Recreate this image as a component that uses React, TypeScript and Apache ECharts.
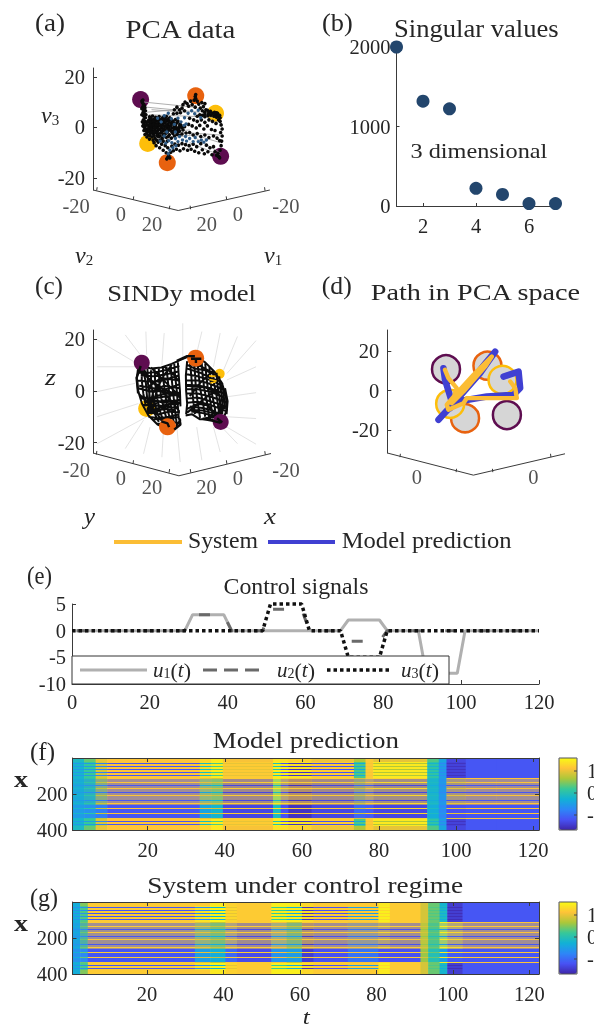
import React, { useEffect, useRef } from "react";
import * as echarts from "echarts";

const FONT = '"Liberation Serif", serif';
const INK = "#262626";
const AXIS = "#3a3a3a";
const PURPLE = "#5e0d50";
const ORANGE = "#e8620f";
const YELLOW = "#fdbe0a";
const NAVY = "#23466d";
const SYSTEM = "#fbbd35";
const MODEL = "#4040d2";

// (a) PCA data: projected positions
const sitesA = [[-16.3, 11], [5.4, 12.5], [13.2, 5.6], [-13.5, -6.3], [-5.8, -13.9], [15.2, -11.4]];
const blackA = [
  [-15.6,9.8],[-15.2,9.2],[-14.8,8.6],[-15.4,8.2],[-14.6,7.8],[-15.1,7.0],[-14.4,6.6],[-15.3,6.0],[-14.7,5.4],[-14.2,5.0],[-15.0,4.4],[-14.4,3.8],[-15.2,3.0],[-14.6,2.4],[-14.0,2.0],[-15.0,1.4],[-14.3,0.8],[-14.8,0.0],[-14.0,-0.6],[-14.5,-1.2],[-13.5,-1.6],[-14.0,-2.4],[-13.2,-3.0],
  [-12.8,4.2],[-11.6,4.5],[-10.4,4.0],[-9.0,4.3],[-7.6,3.9],[-6.2,4.4],[-4.8,3.8],
  [-13,3],[-12,2.8],[-11,3.2],[-10,2.7],[-9,3.1],[-8,2.6],[-7,3.2],[-6,2.7],[-5,3],[-3.8,2.6],[-2.6,3.1],
  [-12.6,1.8],[-11.6,1.5],[-10.6,2],[-9.6,1.4],[-8.6,1.9],[-7.6,1.3],[-6.6,1.8],[-5.6,1.2],[-4.4,1.7],[-3.2,1.2],[-2,1.8],[-0.8,1.3],
  [-13,0.4],[-12,0.2],[-11,0.7],[-10,0.1],[-9,0.6],[-8,-0.1],[-7,0.5],[-6,-0.1],[-5,0.4],[-4,-0.2],[-3,0.3],[-2,-0.2],[-1,0.4],[0,-0.1],[1,0.3],
  [-12.6,-0.9],[-11.6,-1.2],[-10.6,-0.8],[-9.6,-1.3],[-8.6,-0.8],[-7.6,-1.4],[-6.6,-1],[-5.6,-1.5],[-4.6,-1],[-3.4,-1.4],[-2.2,-1],[-1,-1.5],[0.4,-1],
  [-12.4,-2.2],[-11.4,-2.6],[-10.4,-2.1],[-9.4,-2.7],[-8.4,-2.2],[-7.4,-2.8],[-6.4,-2.3],[-5,-2.9],[-3.6,-2.4],[-2,-2.8],[0,-2.6],[1.6,-2.2],
  [-11.8,-3.8],[-10.6,-4.2],[-9.2,-3.7],[-7.8,-4.3],[-6.2,-3.9],[-4.2,-4.2],
  [-11,-6],[-10.2,-7.2],[-9.4,-5.8],[-8.8,-8],[-8,-6.6],[-7.4,-9],[-6.6,-7.2],[-6.2,-10],[-5.6,-8],[-5.2,-11],[-6,-12.4],[-5.6,-11.8],[-4.8,-12],[-4.4,-9.8],[-4,-7.4],[-3.4,-9.2],[-2.8,-6.6],[-2.2,-8.6],[-1.4,-7],[-0.8,-9.2],[0,-6.4],[0.6,-8.4],[1.4,-6.8],[2.2,-9],[2.8,-7.2],
  [3.6,-8.6],[4.4,-6.6],[5,-9.4],[5.8,-7.6],[6.6,-10],[7.4,-6.4],[8,-8.8],[8.8,-10.4],[9.6,-7],[10.2,-9.6],[11,-8],[11.8,-10.8],[12.4,-7.6],[13,-9.6],[13.6,-11],[14.2,-10.2],[14.6,-11.6],[15,-9],[15.4,-7.2],[15.6,-5.4],[14.8,-5.2],[15.8,-3.4],[15.2,-2],[15.8,-0.6],[15.4,1],[15,2.4],[14.4,3],
  [0.4,9],[1.2,10],[2,9.4],[2.6,8.4],[3.4,10.4],[4,9],[4.8,10.8],[5.2,8],[6,10.4],[6.6,9.2],[7.2,7.6],[7.8,9.8],[8.4,8.2],[9,9.4],[9.4,7],
  [-3,7],[-2,8],[-1,7],[0,7.6],[-0.6,5.8],[1,6.6],[-2,5.6],[-3.4,5.4],
  [8,6.6],[9,6],[10,6.8],[10.6,5.8],[11.2,6.4],[12,5.6],[12.8,6],[13.4,5],[14,5.6],[14.4,4.4],[13.6,4],[12.6,4.4],[11.4,4.8],[10.2,4.6],[9,4.2],[8,4.8],[7,5],[6,4.4],
  [3,3.6],[4.6,3],[6,2.4],[7.6,3],[9,2],[10.6,3],[12,2.4],[13.4,1.6],[2.6,1.2],[4,0.6],[5.6,-0.2],[7,0.8],[8.6,-0.6],[10,0.6],[11.6,-0.8],[13,-1.2],[3,-2],[4.4,-3],[6,-2.4],[7.4,-3.6],[9,-3],[10.6,-4],[12.4,-3.4],[13.8,-4.2],
  [5.4,13.0],[5.2,12.2],[5.4,11.4],[-15.8,10.4],[-15.4,10.8],[14.2,-11.4],[14.8,-12],
  [-12.2,3.6],[-10.6,3.5],[-9.4,3.7],[-8.2,3.2],[-6.6,3.7],[-5.4,3.4],[-4.2,3.1],[-13.4,2.4],[-12.2,2.2],[-11.2,2.4],[-9.2,2.4],[-7.2,2.4],[-5.2,2.2],[-3.4,2],[-1.6,2.5],
  [-13.4,1],[-12.4,1],[-11.2,1.1],[-10,1],[-8.2,0.9],[-6.2,0.7],[-4.4,0.8],[-2.6,0.8],[-0.4,0.8],[-13.2,-0.4],[-12,-0.6],[-10.8,-0.2],[-9.4,-0.4],[-7.2,-0.6],[-5.2,-0.6],[-3,-0.6],[-1.2,-0.5],
  [-13,-1.6],[-12,-1.8],[-11,-1.7],[-9.8,-2],[-8,-1.7],[-6,-2],[-4,-1.8],[-1.8,-2],[-12.6,-3.2],[-11,-3.2],[-9.8,-3.2],[-8.6,-3.4],[-7,-3.4],[-5.4,-3.6],[-3,-3.4],[-1,-3.1],[-11.4,-5],[-10,-5],[-8.6,-5],[-7.4,-5.4],[-5.8,-5.4],
  [-15.8,7.4],[-15.8,5],[-15.6,2.2],[-15.4,0.6],[-15,-1.2],[-14.6,-2.8],[-13.8,-3.8],[-12.8,-4.6],
  [9,5.2],[10.4,5.4],[11.8,5.4],[13,5.4],[13.6,5.8],[14.8,4.8],[15,3.8],
];
const blueA = [
  [-9.6,3.6],[-8.2,2.2],[-7,4.6],[-5.4,5.6],[-4.2,3.4],[-3,1.2],[-1.6,3.6],[-0.4,2.2],[1,3.8],[2.4,5.6],[3.8,6.6],[5,5.4],[6.4,6.8],[7.4,3.8],[-6,-1.8],[-7,-3.4],[-5.2,-5.2],[-6.4,-6.2],[-4,-6],[-2.6,-4.4],[-1,-3.6],[-1.6,-5.6],[0.2,-5],[1.4,-3.6],[1.8,-5.4],[3,-4.4],[4.4,-5.6],[5.2,-4],[6.4,-5.6],[7.6,-5],[8.6,-5.8],[9.6,-5],[-3.6,-8],[-2.4,-7.2],[-4.8,-9],[-5.4,-10.4],[0.8,0.8],[-2.6,-1.8],[1.6,1.4],[-8.6,-5.4],
];
const flowA = [
  [[-15,10],[5,8]], [[-14,8],[7,6]], [[-13,5],[14,4]], [[-14,-1],[15,-3]], [[3,-6],[15,-11]], [[5,-4],[15,-10]], [[-12,7],[2,6]], [[-10,-2],[3,-1]],
  [[-14,6],[-2,7]], [[2,-2],[15,-6]], [[-11,-5],[4,-3]],
];

// (b) Singular values
const svIndex = [1, 2, 3, 4, 5, 6, 7];
const svValues = [2000, 1318, 1222, 222, 146, 30, 30];

// (c) SINDy model
const sitesC = [[-15.6, 10.9], [5.3, 12.6], [-13.7, -6.8], [-5.6, -13.9], [15, -12]];
const hiddenYellowC = [14.6, 6.6];
const spokesC = [
  [[-32.9,19.7],[-17.5,10.6]],[[-32.9,9.3],[-18.2,9.3]],[[-32.9,-0.3],[-18.2,2.9]],[[-32.9,-10],[-16.9,-4.9]],[[-32.9,-20.4],[-13.7,-10]],
  [[-22,21.6],[-15.6,13.2]],[[-14,22.9],[-13.7,13.9]],[[-6.9,22.3],[-7.8,10]],[[0.3,26.1],[0.3,11.9]],[[7.7,22.9],[5.7,14.5]],[[14.8,22.3],[12.2,9.3]],[[21.5,21],[16.1,8]],[[28.7,19.4],[17.4,6.7]],
  [[28.7,9.3],[17.4,4.2]],[[28.7,-0.7],[17.4,-2.3]],[[28.7,-10.7],[17.4,-10]],[[28.7,-20.6],[17.4,-14]],
  [[21.5,-20.4],[15.4,-14]],[[14.8,-23.6],[12.2,-14]],[[7.7,-26.8],[5.7,-14]],[[-0.7,-27.5],[-2,-14]],[[-7.8,-25.6],[-7.2,-15.2]],[[-14.9,-24.3],[-12.4,-14]],[[-22,-22.3],[-14.9,-11.3]],
];
const webC = [
  [[-17,9],[-17.5,5],[-17,0],[-15.5,-5],[-13,-9.5],[-9.5,-13],[-6,-14.5],[-2.5,-14],[-0.5,-11]],
  [[-15.6,10],[-12,8.6],[-8,9],[-4,10.4],[-1,11.8],[2,13],[5.7,13]],
  [[-13.5,-7.5],[-9,-4],[-5,-3.5],[-1,-5]],
  [[-13.5,-7],[-10,-2],[-6,-1],[-1,-2]],
  [[-13,-7.5],[-11,0],[-7,2],[-1,1]],
  [[-13,-8],[-12.5,2],[-8,5],[-1,4]],
  [[-15,8],[-14,3],[-13.5,-3],[-12,-8]],
  [[-12,8],[-12,3],[-11,-3],[-9.5,-9],[-7,-13]],
  [[-9,8.5],[-8.8,3],[-8,-3],[-6.5,-9],[-5,-13.5]],
  [[-6,9.2],[-5.5,4],[-4.8,-2],[-4,-8],[-3,-13]],
  [[-3,10.4],[-2.6,5],[-2,0],[-1.6,-6],[-1.2,-11]],
  [[-14,-8],[-9,-9],[-5,-8],[-0.8,-8.4]],
  [[-11,-11],[-6,-11],[-1,-10]],
  [[-16,6],[-11,5.6],[-6,6.4],[-1,7.6]],
  [[-16.6,2],[-11,1],[-6,-0.8],[-1,-0.6]],
  [[-13,-8.6],[-10,-8.4],[-6,-6],[-2,-6.6]],
  [[-16,-2],[-12,-3.4],[-7,-4.6],[-1,-3.4]],
  [[-13.5,-8],[-9,-6.6],[-5,-5.4],[-2,-5]],
  [[-13.4,-8.4],[-9,-7.4],[-6,-7],[-3,-7.4]],
  [[-15,9],[-13.2,5],[-10,2.6],[-7,0.4],[-3,-1]],
  [[-4,10],[-7,6],[-9.6,1],[-11,-5],[-12,-9]],
  [[-17,7],[-13,7],[-9,7.4],[-5,8.4],[-1,9.6]],
  [[-17.4,4],[-13,3.6],[-9,3.6],[-5,4.8],[-1,6]],
  [[-17,1],[-14,0.2],[-10,-0.4],[-5,1],[-1,2.6]],
  [[-16.4,-3],[-13,-3],[-9,-2.6],[-5,-2],[-0.6,-1]],
  [[-15.4,-5.4],[-12,-5.6],[-8,-5.8],[-4,-4.8],[-0.6,-4.4]],
  [[-13,-10],[-9,-10.6],[-5,-10],[-1,-9]],
  [[-10,-12.6],[-6,-13],[-2,-12]],
  [[-15.6,9],[-15.6,4],[-15,-1],[-14,-6]],
  [[-13.4,8.6],[-13.2,3],[-12.4,-3],[-11,-8],[-9,-12]],
  [[-10.6,8.6],[-10.4,3],[-9.6,-3],[-8.2,-9],[-6.4,-13.4]],
  [[-7.4,9],[-7.2,4],[-6.4,-2],[-5.4,-8],[-4,-13.4]],
  [[-4.4,10],[-4,4.6],[-3.4,-1],[-2.8,-7],[-2,-13]],
  [[-1.6,11],[-1.2,5],[-0.8,0],[-0.6,-6]],
  [[-16.4,8],[-10,2],[-4,-4],[-1,-8]],
  [[-12,9],[-6,3],[-2,-1],[-0.6,-3]],
  [[-16.8,-1],[-12,-6],[-8,-11],[-5,-14]],
  [[-7,9.4],[-3,6],[-1,3.4]],
  [[5.7,13],[9,11],[12.5,7.5],[15.5,3],[17,-2],[17.4,-7],[16,-11],[14.5,-12.5]],
  [[14.8,-12],[11,-11],[7,-11],[3.8,-9],[1.4,-9.5]],
  [[2,11.5],[1.5,6],[1.6,0],[2,-5],[1.6,-9]],
  [[3,11.8],[3.6,6],[4,0],[4.4,-4],[5,-9]],
  [[6,12],[6.4,7],[7,1],[8,-4],[9,-10]],
  [[9,10.6],[9.4,6],[10,1],[11,-4],[12,-10.6]],
  [[12,8],[12.4,3],[13.4,-2],[14.2,-7],[14.4,-11]],
  [[14.4,5.6],[15,1],[15.6,-4],[15.6,-9]],
  [[2,8.6],[7,7],[11,5],[15,3.6]],
  [[1.8,4],[6,4],[10,3],[16,0.6]],
  [[1.6,0.6],[6,0.6],[11,-0.4],[16.6,-2.6]],
  [[1.8,-3],[6,-2.6],[11,-4],[17,-6]],
  [[3,-6],[8,-6.6],[12,-7.6],[16,-10]],
  [[3.6,-8],[8,-8.6],[12,-9.6],[15,-11.8]],
  [[2,-7],[6,-5],[10,-5.6],[15,-11]],
  [[2,10],[5,8.6],[9,8],[13,6]],
  [[2,2],[5,1.6],[9,1.4],[14,-1]],
  [[3,10.4],[7,9.6],[11,7.4],[14,5]],
  [[1.8,6.4],[6,5.6],[11,4.2],[15.6,2]],
  [[1.6,2.4],[6,2.2],[11,1],[16.4,-1]],
  [[1.8,-1],[6,-1],[11,-2.2],[17,-4.4]],
  [[2,-4.6],[6,-4.2],[11,-5.4],[17,-7.8]],
  [[3,-7.4],[8,-7.6],[12,-8.6],[16,-11]],
  [[4.6,12.4],[5,7],[5.4,1],[6,-4],[7,-10.4]],
  [[7.6,11.4],[8,6],[8.6,1],[9.6,-4],[10.6,-10.6]],
  [[10.6,9.4],[11,4],[11.6,-1],[12.6,-6],[13.4,-11]],
  [[13.4,7],[13.8,2],[14.6,-3],[15,-8],[15.4,-11.4]],
  [[15.6,3],[16.2,-2],[16.6,-7]],
  [[16,2],[10,-2],[5,-6],[2,-8.4]],
  [[12,7.8],[7,3],[3,-2]],
  [[16.8,-6],[12,-10],[8,-10.8]],
];
const marksC = [
  [[3.5,12.4],[7.5,12.4]], [[5.4,12.4],[5.4,10.8]], [[-8,-11.8],[-5.6,-12.6],[-5,-14]], [[-13.4,-7.6],[-10,-5.4]], [[-13.2,-8],[-9,-7]], [[13.6,-10.6],[15.6,-12.2]],
  [[-1,-10.6],[-0.6,-13],[-3,-15]], [[8,-10.8],[12,-11.6],[15,-12.4]], [[-2,11.6],[2,13.4],[5,13.4]], [[-16,9.6],[-17.6,5],[-17,-1]],[[16.6,1],[17.6,-4],[17.2,-9]],
];
const scribbleC = [
  [[10.5,5.8],[13,5.6]], [[10.6,4.4],[13.4,3.8]], [[11,3],[13,3.4]],
];

// (d) Path in PCA space
const sitesD = [[-15.2, 10.8], [15.5, -12.4], [5.7, 12.6], [-5.6, -14], [13.3, 5.4], [-13.1, -6.7]];
const pathModel = [
  [13.8,7.1],[21.4,9.6],[22.2,1.3],[18.8,-2.2],[5.4,-3],[-6.4,-5],[-13.1,-8.4],[-19,-14.8],[-9.8,-4.7],[2,8.8],[9.6,19.7],[5.4,14.7],[-4.7,2],[-13.1,-8.9],[-12.3,-5.5],[-15.7,5.4],[-16.5,11.3],
];
const pathSystem = [
  [17.2,4.6],[19.7,1.2],[20.5,-3.8],[10.4,-3.8],[-4.7,-3.8],[-6.4,-6.4],[-14,-9.7],[-14.8,-7.2],[-9.8,-1.3],[-1.3,8],[7.9,17.2],[4.5,12.1],[-6.4,-0.5],[-12.3,-6.4],[-9.8,1.2],[-14,6.3],[-15.7,10.5],
];

// Floors of the three box plots
const floorA = [[-35,-24.7],[-1.5,-32.8],[34.6,-24.7]];
const floorTicksA = [[[-33.6,-24.9],[-33.4,-23.6]],[[-19.2,-28.6],[-19,-27.2]],[[-5,-32.3],[-4.8,-30.9]],[[3.4,-32.3],[3.2,-30.9]],[[17.6,-28.6],[17.4,-27.2]],[[32.7,-25],[32.5,-23.6]]];
const floorLabelsA = [["-20",-41.7,-31.2],["0",-24.1,-34.2],["20",-11.8,-38.2],["20",9.7,-38.2],["0",22,-34.2],["-20",40.9,-31.1]];
const floorC = [[-34.5,-24],[-1.2,-32.8],[34.5,-24.2]];
const floorTicksC = [[[-33.2,-24.6],[-33,-23.2]],[[-19,-28.2],[-18.8,-26.8]],[[-5,-31.6],[-4.8,-30.2]],[[3.4,-31.6],[3.2,-30.2]],[[17.4,-28.2],[17.2,-26.8]],[[32.3,-24.7],[32.1,-23.3]]];
const floorLabelsC = [["-20",-41,-30.7],["0",-23.7,-33.8],["20",-11.6,-37.3],["20",9.5,-37.3],["0",21.7,-33.8],["-20",40.3,-30.7]];
const floorD = [[-44.8,-31.6],[-1.4,-42.8],[44.8,-32]];
const floorTicksD = [[[-38.4,-33.7],[-38.2,-32]],[[-10.1,-41.3],[-9.9,-39.6]],[[8.4,-41.3],[8.2,-39.6]],[[37.7,-33.7],[37.5,-32]]];
const floorLabelsD = [["0",-29.9,-44],["0",28.8,-44]];

// (e) Control signals
const u1 = [[0,0],[29,0],[31,3],[39,3],[41,0],[69,0],[71,2],[79,2],[81,0],[89,0],[91,-8],[99,-8],[101,0],[120,0]];
const u2 = [[0,0],[29,0],[31,3],[39,3],[41,0],[49,0],[51,4],[59,4],[61,0],[69,0],[71,-2],[79,-2],[81,0],[120,0]];
const u3 = [[0,0],[49,0],[51,5],[59,5],[61,0],[69,0],[71,-5],[79,-5],[81,0],[120,0]];

// (f), (g): each row of the field follows one of a few time profiles
const rowClasses = "EEEEHLHHLHHLHHLHHLHHMmmmMmmDmmMmmmDmmMmmmmDmmMmDDDMDDDDMDDDDMHHLHHLHEEEE";
const fEnds = [3, 6, 9, 33, 36, 39, 52, 54, 56, 62, 73, 76, 78, 92, 95, 97, 102, 110, 121];
const fE = [-0.1,0.4,1.0,1.15,1.3,1.45,1.1,1.4,1.35,1.25,1.05,0.7,1.2,1.0,0.3,-0.4,-1.3,-1.15,-1.15];
const fH = [-0.2,0.2,0.9,1.15,1.35,1.5,1.2,1.5,1.5,1.4,1.2,0.3,1.2,1.45,0.1,-0.5,-1.35,-1.15,-1.15];
const fL = [-0.5,-0.5,-0.8,-1.15,-0.1,0.3,1.0,0.0,-1.2,-1.5,-1.2,-0.3,1.1,0.7,-0.2,-0.7,-1.5,-1.15,-1.15];
const fM = [-0.2,0.1,0.8,1.15,1.0,0.9,1.2,1.45,1.3,1.2,1.2,0.9,1.2,1.3,-0.1,-0.5,1.0,1.15,1.15];
const fD = [-0.5,-0.6,-0.8,-1.15,-0.4,-0.2,-1.3,-0.1,-1.2,-1.5,-1.3,-1.0,-1.1,-1.3,-0.3,-0.7,-1.2,-1.15,-1.15];
const gEnds = [2, 4, 32, 36, 40, 43, 52, 56, 60, 63, 72, 80, 83, 91, 93, 96, 98, 102, 122];
const gE = [-0.3,0.5,1.2,1.2,1.45,1.25,1.2,1.5,1.5,1.3,1.2,1.2,1.45,1.2,0.9,0.4,-0.2,-1.4,-1.15];
const gH = [-0.3,0.3,1.2,1.4,1.55,1.3,1.2,1.5,1.5,1.35,1.2,1.2,1.5,1.2,0.9,0.4,-0.1,-1.4,-1.15];
const gL = [-0.6,-0.6,-1.15,-0.7,-0.3,1.0,1.2,0.2,-0.3,-1.5,-1.2,-0.5,1.3,1.2,0.9,0.3,-0.3,-1.55,-1.15];
const gM = [-0.3,0.4,1.2,1.0,0.8,1.2,1.2,1.1,0.8,1.2,1.2,1.1,1.3,1.2,0.9,0.4,1.5,1.3,1.15];
const gD = [-0.6,-0.7,-1.15,-0.5,-0.3,-1.0,-1.25,-0.6,-0.5,-1.4,-1.2,-0.9,-1.2,-1.2,0.6,0.0,-0.5,-1.1,-1.15];
const parula = ["#3e26a8", "#4852f4", "#2d87f7", "#11b1d6", "#37c898", "#acc739", "#fec338", "#f9fb14"];
const heatMin = -1.65;
const heatMax = 1.6;

function cells(ends: number[], p: Record<string, number[]>, tStart: number) {
  const out: number[][] = [];
  const rowH = 400 / rowClasses.length;
  rowClasses.split("").forEach((c, r) => {
    ends.forEach((end, s) => {
      const t0 = s === 0 ? tStart : ends[s - 1] + 0.5;
      const t1 = end + 0.5;
      const y0 = r * rowH;
      if (c === "m") {
        out.push([t0, t1, y0, y0 + rowH, p.M[s]]);
        out.push([t0, t1, y0, y0 + rowH * 0.4, p.D[s]]);
      } else {
        out.push([t0, t1, y0, y0 + rowH, p[c][s]]);
      }
    });
  });
  return out;
}

const gapped = (polys: number[][][]) => {
  const out: any[] = [];
  polys.forEach((poly, i) => {
    if (i) out.push(["-", "-"]);
    poly.forEach((pt) => out.push(pt));
  });
  return out;
};

const ctx = document.createElement("canvas").getContext("2d") as CanvasRenderingContext2D;
function fitText(s: string, x: number, y: number, w: number, size: number, extra: any = {}) {
  ctx.font = `${extra.fontStyle || ""} ${extra.fontWeight || ""} ${size}px "Liberation Serif"`;
  const m = ctx.measureText(s).width;
  return {
    type: "text", x, y, scaleX: w / m, z: 120, silent: true,
    style: { text: s, fontFamily: FONT, fontSize: size, fill: INK, verticalAlign: "middle", align: "left", ...extra },
  };
}
const segment = (x1: number, y1: number, x2: number, y2: number, stroke: string, lineWidth: number, lineDash?: number[]) => ({
  type: "line", z: 120, silent: true, shape: { x1, y1, x2, y2 }, style: { stroke, lineWidth, lineDash },
});
const mathLabel = (sym: string, sub: string, x: number, y: number) => ({
  type: "text", x, y, z: 120, silent: true,
  style: {
    text: `{i|${sym}}{s|${sub}}`, fill: INK, verticalAlign: "middle", align: "left",
    rich: {
      i: { fontFamily: FONT, fontStyle: "italic", fontSize: 24, fill: INK },
      s: { fontFamily: FONT, fontSize: 15, fill: INK, verticalAlign: "bottom", padding: [8, 0, 0, 0] },
    },
  },
});
const uLabel = (sub: string, x: number, y: number) => ({
  type: "text", x, y, z: 120, silent: true,
  style: {
    text: `{i|u}{s|${sub}}{n|(}{i|t}{n|)}`, fill: INK, verticalAlign: "middle", align: "left",
    rich: {
      i: { fontFamily: FONT, fontStyle: "italic", fontSize: 21, fill: INK },
      n: { fontFamily: FONT, fontSize: 22, fill: INK },
      s: { fontFamily: FONT, fontSize: 14, fill: INK, padding: [6, 0, 0, 0] },
    },
  },
});

const plain = (v: number) => String(v);
const tickFont = { fontFamily: FONT, fontSize: 20.5, color: INK, formatter: plain };
const line = { lineStyle: { color: AXIS, width: 1 } };

function hiddenX(gridIndex: number, half: number) {
  return { type: "value", gridIndex, min: -half, max: half, show: false };
}
function boxY(gridIndex: number, min: number, max: number) {
  return {
    type: "value", gridIndex, min, max, splitLine: { show: false },
    axisLine: { show: true, onZero: false, ...line },
    axisTick: { show: true, inside: true, length: 4, customValues: [-20, 0, 20], ...line },
    axisLabel: { ...tickFont, margin: 8, customValues: [-20, 0, 20], showMinLabel: true, showMaxLabel: true },
  };
}
function heatX(gridIndex: number, max: number, top: boolean) {
  return {
    type: "value", gridIndex, min: 0.5, max, position: top ? "top" : "bottom", z: 6, splitLine: { show: false },
    axisLine: { show: true, onZero: false, ...line },
    axisTick: { show: true, inside: true, length: 4, customValues: [20, 40, 60, 80, 100, 120], ...line },
    axisLabel: top ? { show: false } : { ...tickFont, margin: 9, customValues: [20, 40, 60, 80, 100, 120] },
  };
}
function heatY(gridIndex: number, right: boolean) {
  return {
    type: "value", gridIndex, min: 0, max: 400, inverse: true, position: right ? "right" : "left", z: 6, splitLine: { show: false },
    axisLine: { show: true, onZero: false, ...line },
    axisTick: { show: true, inside: true, length: 4, customValues: [200, 400], ...line },
    axisLabel: right ? { show: false } : { ...tickFont, margin: 5, customValues: [200, 400] },
  };
}
const rectItem = (_: any, api: any) => {
  const a = api.coord([api.value(0), api.value(2)]);
  const b = api.coord([api.value(1), api.value(3)]);
  return {
    type: "rect",
    shape: { x: a[0], y: a[1], width: b[0] - a[0] + 0.6, height: b[1] - a[1] },
    style: { fill: api.visual("color") },
  };
};
const lineSeries = (i: number, data: any[], color: string, width: number, z = 2, extra: any = {}) => ({
  type: "line", xAxisIndex: i, yAxisIndex: i, data, symbol: "none", clip: false, z, silent: true,
  lineStyle: { color, width, ...extra }, connectNulls: false,
});
const scatterSeries = (i: number, data: any[], color: any, size: number, z = 3, border?: any) => ({
  type: "scatter", xAxisIndex: i, yAxisIndex: i, data, symbolSize: size, clip: false, z, silent: true,
  itemStyle: { color, opacity: 1, ...(border || {}) },
});
const floorLabels = (i: number, items: any[]) => ({
  type: "scatter", xAxisIndex: i, yAxisIndex: i, symbolSize: 1, clip: false, silent: true, z: 4,
  itemStyle: { color: "transparent" },
  data: items.map(([name, u, v]) => ({ name, value: [u, v] })),
  label: { show: true, position: "inside", ...tickFont, formatter: "{b}" },
});
const floorParts = (i: number, floor: any[], ticks: any[]) => [
  lineSeries(i, floor, AXIS, 1),
  lineSeries(i, gapped(ticks), AXIS, 1),
];

function buildOption() {
  const legendBox = {
    type: "rect", z: 100, silent: true,
    shape: { x: 72, y: 656, width: 377, height: 28 },
    style: { fill: "#fff", stroke: "#333", lineWidth: 1 },
  };
  const graphicElements: any[] = [
    fitText("(a)", 35, 22, 30, 26), fitText("PCA data", 125.5, 30, 111.5, 25),
    fitText("(b)", 322, 23, 30.7, 26), fitText("Singular values", 394, 29, 164.7, 25),
    fitText("3 dimensional", 410.5, 150, 137, 22),
    fitText("(c)", 35, 285, 28, 26), fitText("SINDy model", 107.3, 292.7, 148.7, 24),
    fitText("(d)", 321.7, 285, 30, 26), fitText("Path in PCA space", 370.7, 292.7, 211, 24),
    fitText("(e)", 27, 575, 25, 26), fitText("Control signals", 223.5, 586, 145, 24),
    fitText("(f)", 30, 751.7, 25, 26), fitText("Model prediction", 212.7, 740, 186.3, 24),
    fitText("(g)", 30, 896.7, 28, 26), fitText("System under control regime", 147.3, 885, 316, 24),
    fitText("x", 14, 779, 14, 24, { fontWeight: "bold" }), fitText("x", 14, 923, 14, 24, { fontWeight: "bold" }),
    fitText("t", 302.7, 1017, 7, 20, { fontStyle: "italic" }),
    mathLabel("v", "3", 41, 115), mathLabel("v", "2", 75, 255), mathLabel("v", "1", 264, 255),
    fitText("z", 45, 377, 11, 24, { fontStyle: "italic" }),
    fitText("y", 84, 516, 11, 24, { fontStyle: "italic" }),
    fitText("x", 264, 516, 12, 24, { fontStyle: "italic" }),
    segment(114, 542, 182, 542, SYSTEM, 4), fitText("System", 188, 540, 70, 23),
    segment(268, 542, 335, 542, MODEL, 4), fitText("Model prediction", 341.7, 540, 170, 23),
    legendBox,
    segment(80, 670, 147, 670, "#b0b0b0", 3),
    segment(203, 670, 260, 670, "#6a6a6a", 3, [14, 7]),
    segment(327, 670, 390, 670, "#111", 3.5, [3.5, 3]),
    uLabel("1", 153, 670), uLabel("2", 277, 670), uLabel("3", 401, 670),
  ];
  [758, 902].forEach((top) => {
    graphicElements.push({
      type: "rect", z: 110, silent: true, shape: { x: 559, y: top, width: 18, height: 72 },
      style: { fill: "none", stroke: "#555", lineWidth: 1 },
    });
    [
      ["1", 13],
      ["0", 35],
      ["-1", 57],
    ].forEach(([t, dy]: any) => {
      graphicElements.push(segment(574, top + dy, 577, top + dy, "#444", 1));
      graphicElements.push({
        type: "text", x: 587, y: top + dy, z: 120, silent: true,
        style: { text: t, fontFamily: FONT, fontSize: 20.5, fill: INK, verticalAlign: "middle", align: "left" },
      });
    });
  });

  const series: any[] = [
    // a
    ...floorParts(0, floorA, floorTicksA),
    floorLabels(0, floorLabelsA),
    scatterSeries(0, [sitesA[0], sitesA[5]], PURPLE, 17, 3),
    scatterSeries(0, [sitesA[1], sitesA[4]], ORANGE, 17, 3),
    scatterSeries(0, [sitesA[2], sitesA[3]], YELLOW, 17, 3),
    lineSeries(0, gapped(flowA), "#9a9a9a", 0.8, 4),
    scatterSeries(0, blackA, "#0a0a0a", 3.6, 5),
    scatterSeries(0, blueA, "#2d5a85", 3.4, 6),
    // b
    {
      type: "scatter", xAxisIndex: 1, yAxisIndex: 1, symbolSize: 13, clip: false, z: 5, silent: true,
      data: svIndex.map((x, i) => [x, svValues[i]]), itemStyle: { color: NAVY, opacity: 1 },
    },
    // c
    ...floorParts(2, floorC, floorTicksC),
    floorLabels(2, floorLabelsC),
    lineSeries(2, gapped(spokesC), "#dcdcdc", 0.8, 2),
    scatterSeries(2, [sitesC[2]], YELLOW, 17, 3),
    scatterSeries(2, [hiddenYellowC], YELLOW, 10, 3),
    lineSeries(2, gapped(webC), "#0c0c0c", 2, 4),
    scatterSeries(2, [sitesC[0], sitesC[4]], PURPLE, 16, 5),
    scatterSeries(2, [sitesC[1], sitesC[3]], ORANGE, 17, 5),
    lineSeries(2, gapped(marksC), "#0c0c0c", 2.4, 6),
    lineSeries(2, gapped(scribbleC), YELLOW, 1.6, 6),
    // d
    ...floorParts(3, floorD, floorTicksD),
    floorLabels(3, floorLabelsD),
    scatterSeries(3, sitesD.slice(0, 2), "#d6d6d6", 28, 3, { borderColor: PURPLE, borderWidth: 2.5 }),
    scatterSeries(3, sitesD.slice(2, 4), "#d6d6d6", 28, 3, { borderColor: ORANGE, borderWidth: 2.5 }),
    scatterSeries(3, sitesD.slice(4, 6), "#d6d6d6", 28, 3, { borderColor: YELLOW, borderWidth: 2.5 }),
    { ...lineSeries(3, pathModel, MODEL, 6.5, 4, { cap: "round", join: "round" }), name: "Model prediction" },
    { ...lineSeries(3, pathSystem, SYSTEM, 4.4, 5, { cap: "round", join: "round" }), name: "System" },
    // e
    { ...lineSeries(4, u1, "#b0b0b0", 3, 2), name: "u1" },
    { ...lineSeries(4, u2, "#6a6a6a", 3, 3, { type: [11, 22], dashOffset: -5 }), name: "u2" },
    { ...lineSeries(4, u3, "#111", 3.5, 4, { type: [3.5, 3] }), name: "u3" },
  ];
  const fIndex = series.length;
  series.push({
    type: "custom", name: "Model prediction field", xAxisIndex: 5, yAxisIndex: 5, renderItem: rectItem, clip: true, silent: true, z: 2,
    encode: { x: [0, 1], y: [2, 3] }, dimensions: ["t0", "t1", "y0", "y1", "v"],
    data: cells(fEnds, { E: fE, H: fH, L: fL, M: fM, D: fD }, 0.5),
  });
  const gIndex = series.length;
  series.push({
    type: "custom", name: "System field", xAxisIndex: 6, yAxisIndex: 6, renderItem: rectItem, clip: true, silent: true, z: 2,
    encode: { x: [0, 1], y: [2, 3] }, dimensions: ["t0", "t1", "y0", "y1", "v"],
    data: cells(gEnds, { E: gE, H: gH, L: gL, M: gM, D: gD }, 0.5),
  });

  const vm = (seriesIndex: number, top: number) => ({
    type: "continuous", seriesIndex, dimension: 4, min: heatMin, max: heatMax, calculable: false, show: true,
    left: 559, top, itemWidth: 18, itemHeight: 72, padding: 0, text: ["", ""], showLabel: false,
    inRange: { color: parula }, hoverLink: false, textStyle: { fontSize: 1, color: "transparent" },
  });

  return {
    animation: false,
    backgroundColor: "#fff",
    textStyle: { fontFamily: FONT },
    grid: [
      { left: 93, top: 68, width: 178, height: 122 },
      { left: 396.5, top: 47, width: 159, height: 159 },
      { left: 93, top: 330, width: 178, height: 123 },
      { left: 387.3, top: 330, width: 177.7, height: 123 },
      { left: 72, top: 604, width: 467, height: 80 },
      { left: 72.5, top: 758, width: 466.5, height: 72 },
      { left: 72.5, top: 902, width: 466.5, height: 72 },
    ].map((g) => ({ ...g, containLabel: false })),
    xAxis: [
      hiddenX(0, 35.04),
      {
        type: "value", gridIndex: 1, min: 1, max: 7, splitLine: { show: false },
        axisLine: { show: true, onZero: false, ...line },
        axisTick: { show: true, inside: true, length: 3, customValues: [2, 4, 6], ...line },
        axisLabel: { ...tickFont, margin: 9, customValues: [2, 4, 6] },
      },
      hiddenX(2, 34.5),
      hiddenX(3, 44.8),
      {
        type: "value", gridIndex: 4, min: 0, max: 120, interval: 20, splitLine: { show: false },
        axisLine: { show: true, onZero: false, ...line },
        axisTick: { show: true, inside: true, length: 4, ...line },
        axisLabel: { ...tickFont, margin: 7 },
      },
      heatX(5, 121.5, false),
      heatX(6, 122.5, false),
      heatX(5, 121.5, true),
      heatX(6, 122.5, true),
    ],
    yAxis: [
      boxY(0, -24.7, 23.46),
      {
        type: "value", gridIndex: 1, min: 0, max: 2000, interval: 1000, splitLine: { show: false },
        axisLine: { show: true, onZero: false, ...line },
        axisTick: { show: true, inside: true, length: 3, ...line },
        axisLabel: { ...tickFont, margin: 6 },
      },
      boxY(2, -24, 23.5),
      boxY(3, -31.6, 30.66),
      {
        type: "value", gridIndex: 4, min: -10, max: 5, interval: 5, splitLine: { show: false },
        axisLine: { show: true, onZero: false, ...line },
        axisTick: { show: true, inside: true, length: 4, ...line },
        axisLabel: { ...tickFont, margin: 6 },
      },
      heatY(5, false),
      heatY(6, false),
      heatY(5, true),
      heatY(6, true),
    ],
    visualMap: [vm(fIndex, 758), vm(gIndex, 902)],
    series,
    graphic: { elements: graphicElements },
  };
}

export default function App() {
  const ref = useRef<HTMLDivElement>(null);
  useEffect(() => {
    const chart = echarts.init(ref.current as HTMLDivElement, undefined, { renderer: "svg" });
    chart.setOption(buildOption() as any);
    return () => chart.dispose();
  }, []);
  return <div ref={ref} style={{ position: "fixed", left: 0, top: 0, width: 594, height: 1028, overflow: "hidden", filter: "blur(0.4px)" }} />;
}
